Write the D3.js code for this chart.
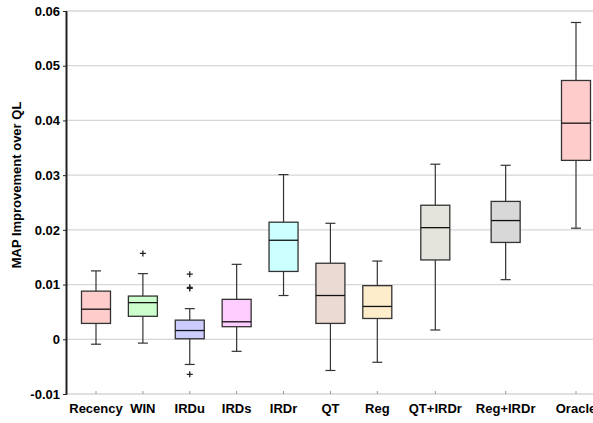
<!DOCTYPE html>
<html>
<head>
<meta charset="utf-8">
<script src="https://cdn.jsdelivr.net/npm/d3@7"></script>
<style>
  body { margin: 0; background: #fff; }
  svg text { font-family: "Liberation Sans", Arial, sans-serif; font-weight: bold; }
</style>
</head>
<body>
<svg id="chart" width="593" height="423"></svg>
<script>
// categories and five-number summaries
const categories = ["Recency", "WIN", "IRDu", "IRDs", "IRDr", "QT", "Reg", "QT+IRDr", "Reg+IRDr", "Oracle"];
const whiskerLow = [-0.0009, -0.0007, -0.0046, -0.0022, 0.0080, -0.0057, -0.0042, 0.0017, 0.0109, 0.0203];
const q1 = [0.0029, 0.0042, 0.0001, 0.0023, 0.0124, 0.0029, 0.0038, 0.0145, 0.0177, 0.0327];
const medians = [0.0055, 0.0067, 0.0016, 0.0032, 0.0181, 0.0080, 0.0060, 0.0204, 0.0217, 0.0395];
const q3 = [0.0088, 0.0079, 0.0035, 0.0073, 0.0214, 0.0139, 0.0098, 0.0245, 0.0252, 0.0473];
const whiskerHigh = [0.0125, 0.0120, 0.0056, 0.0137, 0.0301, 0.0212, 0.0143, 0.0320, 0.0318, 0.0579];
const outliers = [[], [0.0157], [0.0119, 0.0095, 0.0093, -0.0064], [], [], [], [], [], [], []];
const fills = ["#ffcccc", "#ccffcc", "#ccccff", "#ffccff", "#ccffff", "#ebdad3", "#feedcb", "#e4e4dc", "#d8d8d8", "#ffcccc"];
const yTicks = [-0.01, 0, 0.01, 0.02, 0.03, 0.04, 0.05, 0.06];
const yTickLabels = ["-0.01", "0", "0.01", "0.02", "0.03", "0.04", "0.05", "0.06"];

const svg = d3.select("#chart");
const plotLeft = 66, plotRight = 593, plotTop = 11, plotBottom = 394;

const y = d3.scaleLinear().domain([-0.01, 0.06]).range([plotBottom, plotTop]);
// the original figure spaces the last three groups wider apart
const x = d3.scaleLinear().domain([0, 6, 7, 9]).range([96, 377.3, 435.3, 576]);

// grid lines
svg.append("g")
  .selectAll("line")
  .data(yTicks)
  .enter()
  .append("line")
  .attr("x1", plotLeft)
  .attr("x2", plotRight)
  .attr("y1", d => y(d))
  .attr("y2", d => y(d))
  .attr("stroke", "#d6d6d6")
  .attr("stroke-width", 1.3);

// x axis ticks (small grey marks)
svg.append("g")
  .selectAll("line")
  .data(categories)
  .enter()
  .append("line")
  .attr("x1", (d, i) => x(i))
  .attr("x2", (d, i) => x(i))
  .attr("y1", plotBottom)
  .attr("y2", plotBottom - 3)
  .attr("stroke", "#999");

// y axis
const yAxis = d3.axisLeft(y)
  .tickValues(yTicks)
  .tickFormat((d, i) => yTickLabels[i])
  .tickSize(4)
  .tickSizeOuter(0);
const ya = svg.append("g")
  .attr("transform", "translate(" + plotLeft + ",0)")
  .call(yAxis);
ya.select(".domain").attr("stroke", "#222").attr("stroke-width", 2);
ya.selectAll(".tick line").attr("stroke", "#222").attr("transform", "translate(1,0)");
ya.selectAll(".tick text")
  .attr("x", -6)
  .attr("font-size", 13)
  .attr("font-family", "Liberation Sans, Arial, sans-serif")
  .attr("fill", "#000");

// x labels
svg.append("g")
  .selectAll("text")
  .data(categories)
  .enter()
  .append("text")
  .attr("x", (d, i) => x(i))
  .attr("y", 413)
  .attr("text-anchor", "middle")
  .attr("font-size", 13)
  .attr("fill", "#000")
  .text(d => d);

// y title
svg.append("text")
  .attr("transform", "translate(21,185) rotate(-90)")
  .attr("text-anchor", "middle")
  .attr("font-size", 13)
  .attr("fill", "#000")
  .text("MAP Improvement over QL");

// boxes
const boxW = 29, capW = 10;
const boxes = svg.append("g");
categories.forEach((c, i) => {
  const cx = x(i);
  const g = boxes.append("g");
  // whiskers
  g.append("line")
    .attr("x1", cx).attr("x2", cx)
    .attr("y1", y(whiskerHigh[i])).attr("y2", y(q3[i]))
    .attr("stroke", "#333").attr("stroke-width", 1.2);
  g.append("line")
    .attr("x1", cx).attr("x2", cx)
    .attr("y1", y(q1[i])).attr("y2", y(whiskerLow[i]))
    .attr("stroke", "#333").attr("stroke-width", 1.2);
  [whiskerHigh[i], whiskerLow[i]].forEach(v => {
    g.append("line")
      .attr("x1", cx - capW / 2).attr("x2", cx + capW / 2)
      .attr("y1", y(v)).attr("y2", y(v))
      .attr("stroke", "#333").attr("stroke-width", 1.2);
  });
  g.append("rect")
    .attr("x", cx - boxW / 2)
    .attr("y", y(q3[i]))
    .attr("width", boxW)
    .attr("height", y(q1[i]) - y(q3[i]))
    .attr("fill", fills[i])
    .attr("stroke", "#333")
    .attr("stroke-width", 1.3);
  g.append("line")
    .attr("x1", cx - boxW / 2).attr("x2", cx + boxW / 2)
    .attr("y1", y(medians[i])).attr("y2", y(medians[i]))
    .attr("stroke", "#111").attr("stroke-width", 1.3);
  // outliers as "+"
  outliers[i].forEach(v => {
    g.append("path")
      .attr("d", "M" + (cx - 3) + "," + y(v) + "h6M" + cx + "," + (y(v) - 3) + "v6")
      .attr("stroke", "#222")
      .attr("stroke-width", 1.3);
  });
});
</script>
</body>
</html>
